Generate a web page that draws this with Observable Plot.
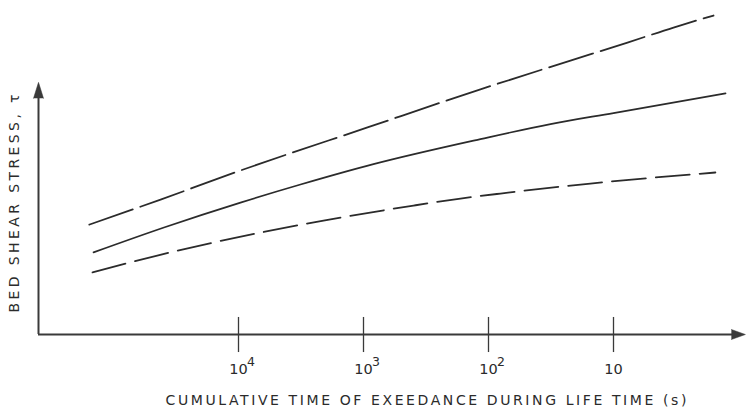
<!DOCTYPE html>
<html>
<head>
<meta charset="utf-8">
<script src="https://cdn.jsdelivr.net/npm/d3@7"></script>
<script src="https://cdn.jsdelivr.net/npm/@observablehq/plot@0.6"></script>
<style>
  html, body { margin: 0; padding: 0; background: #fff; }
</style>
</head>
<body>
<div id="chart"></div>
<script>
// --- data ---
const xLabel = "CUMULATIVE TIME OF EXEEDANCE DURING LIFE TIME (s)";
const yLabel = "BED SHEAR STRESS, τ";

const tickValues = [1e4, 1e3, 1e2, 10];
const tickBase = ["10", "10", "10", "10"];
const tickExp = ["4", "3", "2", ""];

// upper dashed curve
const upperTime = [156000, 42000, 9640, 929, 116, 22.1, 7.73, 3.31, 1.585];
const upperTau  = [3.29, 4.04, 4.91, 6.20, 7.34, 8.20, 8.74, 9.19, 9.55];
// middle solid curve
const middleTime = [144500, 38400, 9640, 3192, 832, 116, 31.9, 10, 1.27];
const middleTau  = [2.46, 3.22, 3.95, 4.49, 5.10, 5.85, 6.30, 6.63, 7.22];
// lower dashed curve
const lowerTime = [147200, 30760, 6668, 2089, 398, 167.5, 80.2, 15.3, 1.53];
const lowerTau  = [1.86, 2.51, 3.05, 3.41, 3.86, 4.07, 4.22, 4.52, 4.85];

// axis extents (data units)
const xMin = 10 ** -0.048, xMax = 10 ** 5.6;
const yAxisTop = 7.2, yArrowBase = 7.07;
const xAxisEnd = 1.06, xArrowBase = 1.14;
const tickUp = 0.51, tickDown = -0.54;

const rows = (t, v, s) => t.map((d, i) => ({time: d, tau: v[i], series: s}));
const upper = rows(upperTime, upperTau, "upper");
const middle = rows(middleTime, middleTau, "middle");
const lower = rows(lowerTime, lowerTau, "lower");
const ticks = tickValues.map((d, i) => ({v: d, base: tickBase[i], exp: tickExp[i]}));

const ink = "#2b2b2b";
const axisInk = "#3a3a3a";
const font = "DejaVu Sans";

const chart = Plot.plot({
  width: 746,
  height: 413,
  marginLeft: 38,
  marginRight: 2,
  marginTop: 0,
  marginBottom: 79,
  style: {background: "#fff", fontFamily: font, color: ink},
  x: {type: "log", domain: [xMin, xMax], reverse: true, axis: null},
  y: {domain: [0, 10], axis: null},
  marks: [
    // axes
    Plot.ruleX([xMax], {y1: 0, y2: yAxisTop, stroke: axisInk, strokeWidth: 2}),
    Plot.ruleY([0], {x1: xMax, x2: xAxisEnd, stroke: axisInk, strokeWidth: 2}),
    Plot.vector([{x: xMax, y: yArrowBase}], {x: "x", y: "y", length: 16, rotate: 0, shape: "spike", r: 5, anchor: "start", fill: axisInk, stroke: axisInk, strokeWidth: 0.5}),
    Plot.vector([{x: xArrowBase, y: 0}], {x: "x", y: "y", length: 14, rotate: 90, shape: "spike", r: 5, anchor: "start", fill: axisInk, stroke: axisInk, strokeWidth: 0.5}),
    // ticks crossing the x axis
    Plot.ruleX(ticks, {x: "v", y1: tickDown, y2: tickUp, stroke: axisInk, strokeWidth: 1.3}),
    Plot.text(ticks, {x: "v", y: 0, text: "base", dy: 35, fontSize: 14.5, fill: ink}),
    Plot.text(ticks, {x: "v", y: 0, text: "exp", dx: 8.5, dy: 27.5, textAnchor: "start", fontSize: 12.5, fill: ink}),
    // curves
    Plot.line(upper, {x: "time", y: "tau", curve: "monotone-x", stroke: ink, strokeWidth: 1.8, strokeDasharray: "46,8"}),
    Plot.line(middle, {x: "time", y: "tau", curve: "monotone-x", stroke: ink, strokeWidth: 1.7}),
    Plot.line(lower, {x: "time", y: "tau", curve: "monotone-x", stroke: ink, strokeWidth: 1.8, strokeDasharray: "34,10"}),
    // axis titles
    Plot.text([xLabel], {frameAnchor: "bottom-left", textAnchor: "start", dx: 127, dy: 70, fontSize: 14, fill: ink}),
    Plot.text([yLabel], {frameAnchor: "bottom-left", textAnchor: "start", rotate: -90, dx: -20, dy: -22, fontSize: 14, fill: ink})
  ]
});

chart.querySelectorAll("text").forEach(t => {
  if (t.textContent === xLabel) t.style.letterSpacing = "2.6px";
  if (t.textContent === yLabel) t.style.letterSpacing = "3.4px";
});

document.getElementById("chart").appendChild(chart);
</script>
</body>
</html>
